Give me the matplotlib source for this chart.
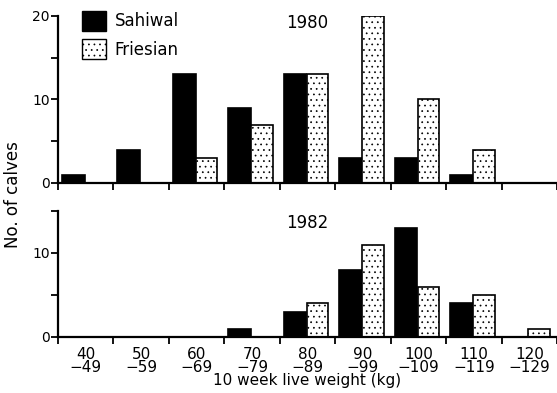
import numpy as np
import matplotlib
matplotlib.use('Agg')
import matplotlib.pyplot as plt
from matplotlib.patches import Patch

# -------------------------------
# data
# -------------------------------
bins_lo = ['40', '50', '60', '70', '80', '90', '100', '110', '120']
bins_hi = ['\u221249', '\u221259', '\u221269', '\u221279', '\u221289', '\u221299', '\u2212109', '\u2212119', '\u2212129']

sahiwal_1980 = [1, 4, 13, 9, 13, 3, 3, 1, 0]
friesian_1980 = [0, 0, 3, 7, 13, 20, 10, 4, 0]
sahiwal_1982 = [0, 0, 0, 1, 3, 8, 13, 4, 0]
friesian_1982 = [0, 0, 0, 0, 4, 11, 6, 5, 1]

plt.rcParams['font.family'] = ['DejaVu Sans']
plt.rcParams['hatch.linewidth'] = 0.5

W, H = 557, 393
fig = plt.figure(figsize=(W / 100, H / 100), dpi=100)
ax1 = fig.add_axes([58 / W, 1 - 183 / H, 499 / W, 167 / H])
ax2 = fig.add_axes([58 / W, 1 - 337 / H, 499 / W, 126 / H])

x = np.arange(len(bins_lo))
bw = 0.41


def draw_panel(ax, s_vals, f_vals, ymax, year, year_y):
    ax.bar(x - 0.225, s_vals, width=bw, color='black', edgecolor='black', linewidth=1.2)
    ax.bar(x + 0.18, f_vals, width=bw - 0.02, color='white', edgecolor='black',
           linewidth=1.2, hatch='...')
    ax.set_xlim(-0.5, 8.5)
    ax.set_ylim(0, ymax)
    for side in ['top', 'right']:
        ax.spines[side].set_visible(False)
    for side in ['left', 'bottom']:
        ax.spines[side].set_linewidth(1.6)
    ax.set_yticks(np.arange(0, ymax + 1, 10))
    ax.set_yticks(np.arange(5, ymax + 1, 10), minor=True)
    ax.set_xticks(np.arange(-0.5, 9, 1))
    ax.tick_params(axis='x', which='major', direction='out', length=5, width=1.3, labelbottom=False)
    ax.tick_params(axis='y', which='both', direction='out', length=5, width=1.3, labelsize=10, pad=1)
    ax.text(4.0, year_y, year, ha='center', va='center', fontsize=12)


draw_panel(ax1, sahiwal_1980, friesian_1980, 20, '1980', 19.2)
draw_panel(ax2, sahiwal_1982, friesian_1982, 15, '1982', 13.6)

# bin labels under the lower panel
ax2.set_xticks(x, minor=True)
ax2.set_xticklabels([f'{a}\n{b}' for a, b in zip(bins_lo, bins_hi)], minor=True,
                    fontsize=11, linespacing=0.85)
ax2.tick_params(axis='x', which='minor', length=0, pad=7)

handles = [Patch(facecolor='black', edgecolor='black', label='Sahiwal'),
           Patch(facecolor='white', edgecolor='black', hatch='...', label='Friesian')]
fig.legend(handles=handles, loc='upper left', bbox_to_anchor=(82 / W, 1 - 11 / H),
           frameon=False, fontsize=12, handlelength=1.45, handleheight=1.45,
           labelspacing=0.5, handletextpad=0.5, borderpad=0, borderaxespad=0)

fig.text(13 / W, 1 - 195 / H, 'No. of calves', rotation=90, ha='center', va='center', fontsize=12)
fig.text(307 / W, 1 - 380 / H, '10 week live weight (kg)', ha='center', va='center', fontsize=11)

fig.savefig('out.png', dpi=100)
